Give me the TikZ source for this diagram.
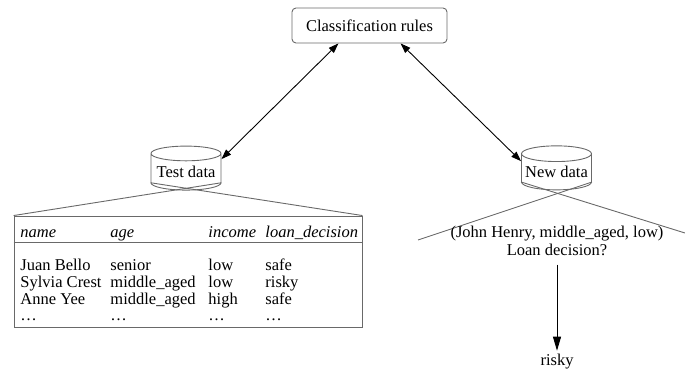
\documentclass[tikz,border=0pt]{standalone}
\usepackage{fontspec}
\setmainfont{Liberation Serif}
\usetikzlibrary{shapes.geometric,arrows.meta,positioning}
\definecolor{lgray}{RGB}{105,105,105}

\begin{document}
\begin{tikzpicture}[x=1pt, y=-1pt, line width=0.9pt,
    every node/.style={font=\fontsize{16.5}{18}\selectfont},
    rulebox/.style={draw=lgray, rounded corners=4pt, minimum width=155pt, minimum height=35pt},
    db/.style={cylinder, shape border rotate=90, aspect=0.25, draw=lgray, minimum width=70pt, minimum height=44pt,
               inner sep=0pt},
    cell/.style={anchor=base west, inner sep=0pt},
    head/.style={cell, font=\fontsize{16.5}{18}\selectfont\itshape},
    fan/.style={draw=lgray},
    both/.style={{Triangle[length=10pt,width=7pt]}-{Triangle[length=10pt,width=7pt]}},
    result/.style={-{Triangle[length=14pt,width=8pt]}}
]
\useasboundingbox (0,0) rectangle (685,374);

% the learned model
\node[rulebox] (rules) at (369.5,25.5) {Classification rules};

% test data and its table
\node[db] (testdata) at (186,172) {Test data};
\node[draw=lgray, minimum width=348pt, minimum height=111pt] (tbl) at (188,271.5) {};
\draw[fan] (testdata.before bottom) -- (tbl.north west);
\draw[fan] (testdata.after bottom) -- (tbl.north east);
\draw[lgray] (tbl.west |- 0,242) -- (tbl.east |- 0,242);

\node[head] (hname) at (20,237) {name};
\node[head] (hage) at (110,237) {age};
\node[head] (hincome) at (208,237) {income};
\node[head] (hloan) at (265,237) {loan\_decision};
\foreach \y/\a/\b/\c/\d in {270/Juan Bello/senior/low/safe,
    287/Sylvia Crest/middle\_aged/low/risky,
    304/Anne Yee/middle\_aged/high/safe,
    320/\ldots/\ldots/\ldots/\ldots}{
  \node[cell] at (20,\y) {\a};
  \node[cell] at (110,\y) {\b};
  \node[cell] at (208,\y) {\c};
  \node[cell] at (265,\y) {\d};
}

% new data and its decision
\node[db] (newdata) at (556.5,172) {New data};
\coordinate (nleft) at (418,240);
\coordinate (nright) at (685,233);
\draw[fan] (newdata.before bottom) -- (nleft);
\draw[fan] (newdata.after bottom) -- (nright);
\node[align=center] (query) at (557,241) {(John Henry, middle\_aged, low)\\Loan decision?};
\node (risky) at (557,362) {risky};
\draw[result, shorten <=5pt] (query.south) -- (risky.north);

% rules are checked on test data, then applied to new data
\draw[both] (rules.210) -- (testdata.20);
\draw[both] (rules.330) -- (newdata.163);

\end{tikzpicture}
\end{document}
